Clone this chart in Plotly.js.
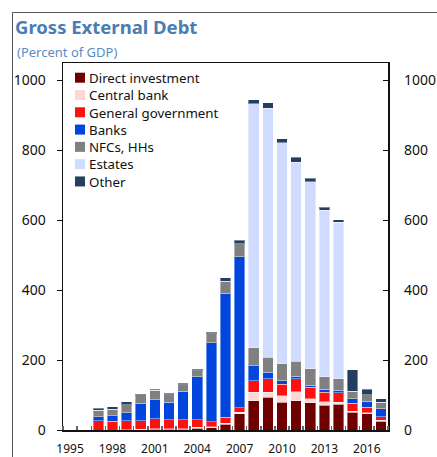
<!DOCTYPE html>
<html>
<head>
<meta charset="utf-8">
<script src="https://cdn.plot.ly/plotly-3.0.1.min.js"></script>
<style>
  html, body { margin: 0; padding: 0; background: #fff; }
  #chart { width: 437px; height: 457px; }
</style>
</head>
<body>
<div id="chart"></div>
<script>
// ---- Data (percent of GDP) ----
const years = [1997,1998,1999,2000,2001,2002,2003,2004,2005,2006,2007,2008,2009,2010,2011,2012,2013,2014,2015,2016,2017];
const directInvestment = [0,0,1,1,2,2,2,5,7,16,47,84,94,80,84,78,71,73,51,46,25];
const centralBank      = [0,0,0,1,2,2,2,3,3,4,4,24,14,18,25,12,10,7,3,3,3];
const generalGov       = [26,25,25,25,28,25,25,21,13,16,13,33,38,33,37,33,27,27,22,16,10];
const banks            = [12,16,24,50,54,50,82,124,227,355,432,43,19,10,8,5,8,7,13,17,23];
const nfcsHHs          = [19,19,22,24,28,22,19,17,25,35,37,52,43,48,42,47,37,33,22,19,19];
const estates          = [0,0,0,0,0,0,0,0,0,0,0,697,713,633,570,535,476,447,0,0,0];
const other            = [5,7,9,3,3,4,4,4,5,9,10,12,15,11,14,10,8,7,62,16,10];

const seriesNames  = ["Direct investment","Central bank","General government","Banks","NFCs, HHs","Estates","Other"];
const seriesValues = [directInvestment, centralBank, generalGov, banks, nfcsHHs, estates, other];
const seriesColors = ["#6e0000","#ffd6d6","#ff1010","#0046dc","#808080","#d0dcff","#253d5e"];

const yTicks = [0,200,400,600,800,1000];
const xTickVals = [1995,1998,2001,2004,2007,2010,2013,2016];

// ---- Layout geometry ----
const W = 437, H = 457;
const M = {l: 63, r: 49, t: 63, b: 27};
const pw = W - M.l - M.r, ph = H - M.t - M.b;
const px2x = px => (px - M.l) / pw;
const py2y = py => 1 - (py - M.t) / ph;

const traces = seriesNames.map((name, i) => ({
  type: 'bar',
  name: name,
  x: years,
  y: seriesValues[i],
  marker: {color: seriesColors[i], line: {color: 'rgba(255,255,255,0.4)', width: 1}},
  hoverinfo: 'x+y+name'
}));
// empty helper trace so the right-hand axis is drawn
traces.push({type: 'scatter', x: [], y: [], yaxis: 'y2', showlegend: false, hoverinfo: 'skip'});

const shapes = [];
const annotations = [];

// manual legend (compact rows like the original)
const legFont = 13.3;
const rowH = legFont * 1.3;
const firstRow = 77.7;
seriesNames.forEach((name, i) => {
  const cy = firstRow + i * rowH;
  shapes.push({
    type: 'rect', xref: 'paper', yref: 'paper',
    x0: px2x(75), x1: px2x(85), y0: py2y(cy + 5), y1: py2y(cy - 5),
    fillcolor: seriesColors[i], line: {width: 0}
  });
});
annotations.push({
  xref: 'paper', yref: 'paper', x: px2x(87.5),
  y: py2y(firstRow + 3 * rowH),
  xanchor: 'left', yanchor: 'middle', showarrow: false, align: 'left',
  borderpad: 0,
  text: seriesNames.join('<br>'),
  font: {family: 'Noto Sans, sans-serif', size: legFont, color: '#111'}
});

// outer frame
shapes.push({
  type: 'path', xref: 'paper', yref: 'paper',
  path: `M ${px2x(12.5)} ${py2y(H + 2)} L ${px2x(12.5)} ${py2y(12.5)} L ${px2x(W + 2)} ${py2y(12.5)}`,
  line: {color: '#555', width: 1}
});

// subtitle
annotations.push({
  xref: 'paper', yref: 'paper', x: px2x(15), y: py2y(52),
  xanchor: 'left', yanchor: 'middle', showarrow: false,
  text: '(Percent of GDP)', font: {family: 'Noto Sans, sans-serif', size: 13, color: '#5a8cc4'}
});

const layout = {
  width: W, height: H,
  margin: M,
  paper_bgcolor: '#fff', plot_bgcolor: '#fff',
  barmode: 'stack', bargap: 0.25,
  showlegend: false,
  title: {
    text: '<b>Gross External Debt</b>',
    font: {family: 'Noto Sans, sans-serif', size: 18.5, color: '#4a7db3'},
    xref: 'container', yref: 'container',
    x: 15 / W, xanchor: 'left', y: 1 - 28 / H, yanchor: 'middle'
  },
  xaxis: {
    range: [1994.5, 2017.5],
    tickvals: xTickVals, ticktext: xTickVals.map(String),
    ticks: '', showgrid: false, zeroline: false,
    showline: true, linecolor: '#111', linewidth: 1.5, mirror: true,
    tickfont: {family: 'Noto Sans, sans-serif', size: 12, color: '#111'},
    ticklabelstandoff: 7,
    minor: {tick0: 1995.5, dtick: 1, ticks: 'inside', ticklen: 4, tickcolor: '#666', tickwidth: 1.5, showgrid: false}
  },
  yaxis: {
    range: [0, 1050], tickvals: yTicks,
    ticks: 'outside', ticklen: 5, tickcolor: '#111', tickwidth: 1,
    showgrid: false, zeroline: false,
    showline: true, linecolor: '#111', linewidth: 1.5, mirror: true,
    tickfont: {family: 'Noto Sans, sans-serif', size: 14, color: '#111'},
    ticklabelstandoff: 8
  },
  yaxis2: {
    overlaying: 'y', side: 'right', anchor: 'x',
    range: [0, 1050], tickvals: yTicks,
    ticks: 'inside', ticklen: 5, tickcolor: '#111', tickwidth: 1,
    showgrid: false, zeroline: false, showline: false,
    tickfont: {family: 'Noto Sans, sans-serif', size: 14, color: '#111'},
    ticklabelstandoff: 15
  },
  shapes: shapes,
  annotations: annotations
};

Plotly.newPlot('chart', traces, layout, {staticPlot: true, displayModeBar: false});
</script>
</body>
</html>
